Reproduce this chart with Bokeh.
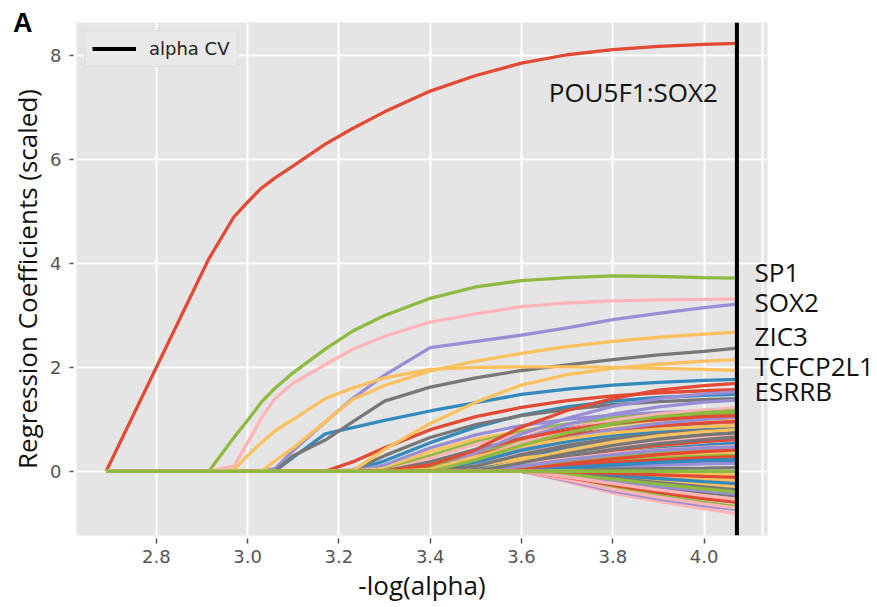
from bokeh.plotting import figure
from bokeh.models import Label, Legend, LegendItem, FixedTicker, Range1d, LinearAxis, Span
from bokeh.embed import file_html
from bokeh.resources import INLINE

# ---------------- data ----------------
palette = ["#E24A33", "#348ABD", "#988ED5", "#777777", "#FBC15E", "#8EBA42", "#FFB5B8"]

x_main = [2.69, 2.915, 2.97, 3.00, 3.03, 3.06, 3.10, 3.17, 3.23, 3.30, 3.40, 3.50, 3.60, 3.70, 3.80, 3.90, 4.00, 4.072]
pou5f1_sox2 = [0, 4.09, 4.90, 5.18, 5.45, 5.65, 5.88, 6.30, 6.60, 6.92, 7.32, 7.62, 7.86, 8.02, 8.12, 8.18, 8.22, 8.24]
sp1 = [0, 0, 0.65, 0.98, 1.33, 1.60, 1.90, 2.35, 2.70, 3.00, 3.33, 3.55, 3.67, 3.73, 3.76, 3.75, 3.73, 3.72]
sox2_a = [0, 0, 0.10, 0.55, 1.02, 1.40, 1.70, 2.05, 2.35, 2.60, 2.87, 3.03, 3.17, 3.24, 3.28, 3.30, 3.31, 3.32]
sox2_b = [0, 0, 0, 0, 0, 0.05, 0.40, 0.95, 1.40, 1.85, 2.38, 2.50, 2.62, 2.76, 2.92, 3.04, 3.15, 3.22]
zic3 = [0, 0, 0, 0, 0, 0.20, 0.45, 0.95, 1.38, 1.65, 1.93, 2.12, 2.27, 2.40, 2.50, 2.58, 2.64, 2.68]
orange_flat = [0, 0, 0.03, 0.30, 0.55, 0.78, 1.00, 1.40, 1.60, 1.80, 1.96, 2.00, 2.01, 2.01, 2.00, 1.98, 1.96, 1.94]
grey_top = [0, 0, 0, 0, 0, 0, 0.30, 0.60, 0.95, 1.35, 1.62, 1.80, 1.94, 2.05, 2.15, 2.24, 2.31, 2.37]
tcfcp2l1 = [0, 0, 0, 0, 0, 0, 0, 0, 0, 0.42, 0.92, 1.33, 1.66, 1.86, 1.98, 2.06, 2.12, 2.15]
esrrb = [0, 0, 0, 0, 0, 0, 0.27, 0.72, 0.84, 0.98, 1.16, 1.32, 1.48, 1.58, 1.66, 1.71, 1.75, 1.77]

x_bulk = [2.69, 3.17, 3.23, 3.30, 3.40, 3.50, 3.60, 3.70, 3.80, 3.90, 4.00, 4.072]
bulk_early = [
    [0, 0, 0.18, 0.45, 0.80, 1.05, 1.23, 1.36, 1.45, 1.51, 1.55, 1.57],
    [0, 0, 0, 0.20, 0.55, 0.85, 1.08, 1.24, 1.35, 1.42, 1.46, 1.48],
    [0, 0, 0, 0.12, 0.45, 0.70, 0.88, 1.00, 1.08, 1.13, 1.16, 1.18],
    [0, 0, 0.02, 0.30, 0.65, 0.90, 1.07, 1.19, 1.28, 1.34, 1.38, 1.40],
    [0, 0, 0, 0.05, 0.38, 0.62, 0.78, 0.89, 0.96, 1.00, 1.03, 1.04],
    [0, 0, 0, 0.02, 0.30, 0.56, 0.76, 0.91, 1.02, 1.09, 1.13, 1.15],
    [0, 0, 0, 0, 0.25, 0.52, 0.72, 0.86, 0.95, 1.00, 1.03, 1.05],
]
bulk_mid = [
    [0, 0, 0, 0, 0, 0.42, 0.85, 1.17, 1.40, 1.56, 1.65, 1.69],
    [0, 0, 0, 0, 0.10, 0.40, 0.64, 0.82, 0.95, 1.03, 1.08, 1.10],
    [0, 0, 0, 0, 0, 0.30, 0.62, 0.90, 1.10, 1.24, 1.33, 1.37],
    [0, 0, 0, 0, 0.18, 0.42, 0.60, 0.72, 0.80, 0.85, 0.88, 0.90],
    [0, 0, 0, 0, 0, 0.20, 0.45, 0.66, 0.82, 0.93, 1.00, 1.03],
    [0, 0, 0, 0, 0.05, 0.35, 0.58, 0.76, 0.90, 1.00, 1.07, 1.11],
    [0, 0, 0, 0, 0, 0.12, 0.35, 0.55, 0.70, 0.80, 0.86, 0.89],
    [0, 0, 0, 0, 0.02, 0.30, 0.52, 0.68, 0.80, 0.88, 0.93, 0.96],
    [0, 0, 0, 0, 0, 0.05, 0.25, 0.44, 0.58, 0.68, 0.74, 0.77],
    [0, 0, 0, 0, 0, 0.15, 0.42, 0.64, 0.80, 0.92, 1.00, 1.04],
    [0, 0, 0, 0, 0, 0.08, 0.30, 0.48, 0.62, 0.72, 0.79, 0.83],
    [0, 0, 0, 0, 0, 0.10, 0.25, 0.35, 0.42, 0.46, 0.49, 0.50],
    [0, 0, 0, 0, 0.08, 0.38, 0.62, 0.80, 0.93, 1.02, 1.07, 1.09],
    [0, 0, 0, 0, 0, 0.25, 0.55, 0.80, 0.98, 1.10, 1.18, 1.22],
    [0, 0, 0, 0, 0.12, 0.40, 0.63, 0.80, 0.92, 1.00, 1.05, 1.07],
    [0, 0, 0, 0, 0, 0.18, 0.40, 0.57, 0.69, 0.77, 0.82, 0.85],
    [0, 0, 0, 0, 0, 0.35, 0.72, 1.02, 1.25, 1.40, 1.49, 1.53],
    [0, 0, 0, 0, 0, 0.10, 0.32, 0.50, 0.63, 0.72, 0.78, 0.81],
    [0, 0, 0, 0, 0.03, 0.28, 0.48, 0.63, 0.74, 0.81, 0.86, 0.88],
    [0, 0, 0, 0, 0, 0.22, 0.50, 0.74, 0.92, 1.05, 1.13, 1.17],
]
bulk_late = [
    [0, 0, 0, 0, 0, 0, 0.15, 0.33, 0.48, 0.58, 0.65, 0.69],
    [0, 0, 0, 0, 0, 0, 0.10, 0.26, 0.40, 0.50, 0.57, 0.61],
    [0, 0, 0, 0, 0, 0, 0.05, 0.20, 0.33, 0.43, 0.50, 0.54],
    [0, 0, 0, 0, 0, 0, 0.08, 0.18, 0.27, 0.34, 0.39, 0.42],
    [0, 0, 0, 0, 0, 0, 0.12, 0.28, 0.42, 0.53, 0.61, 0.66],
    [0, 0, 0, 0, 0, 0, 0, 0.12, 0.22, 0.29, 0.34, 0.37],
    [0, 0, 0, 0, 0, 0, 0.04, 0.12, 0.19, 0.25, 0.29, 0.31],
    [0, 0, 0, 0, 0, 0, 0, 0.08, 0.15, 0.20, 0.24, 0.26],
    [0, 0, 0, 0, 0, 0, 0.02, 0.10, 0.17, 0.22, 0.26, 0.28],
    [0, 0, 0, 0, 0, 0, 0.02, 0.07, 0.12, 0.16, 0.19, 0.21],
    [0, 0, 0, 0, 0, 0, 0, 0.05, 0.09, 0.12, 0.14, 0.15],
    [0, 0, 0, 0, 0, 0, 0, 0.02, 0.04, 0.05, 0.06, 0.07],
    [0, 0, 0, 0, 0, 0, 0.20, 0.40, 0.56, 0.68, 0.76, 0.80],
    [0, 0, 0, 0, 0, 0, 0.06, 0.17, 0.28, 0.37, 0.44, 0.48],
    [0, 0, 0, 0, 0, 0, 0.12, 0.24, 0.34, 0.41, 0.46, 0.49],
    [0, 0, 0, 0, 0, 0, 0.03, 0.14, 0.24, 0.32, 0.38, 0.41],
    [0, 0, 0, 0, 0, 0, 0, 0.06, 0.12, 0.17, 0.21, 0.23],
    [0, 0, 0, 0, 0, 0, 0.10, 0.22, 0.32, 0.40, 0.45, 0.47],
    [0, 0, 0, 0, 0, 0, 0.16, 0.34, 0.50, 0.62, 0.70, 0.74],
]
bulk_neg = [
    [0, 0, 0, 0, 0, 0, 0, -0.04, -0.10, -0.18, -0.25, -0.30],
    [0, 0, 0, 0, 0, 0, 0, -0.10, -0.24, -0.36, -0.47, -0.55],
    [0, 0, 0, 0, 0, 0, 0, -0.20, -0.42, -0.58, -0.72, -0.82],
    [0, 0, 0, 0, 0, 0, 0, -0.13, -0.28, -0.41, -0.53, -0.60],
    [0, 0, 0, 0, 0, 0, 0, -0.07, -0.17, -0.27, -0.36, -0.42],
    [0, 0, 0, 0, 0, 0, 0, -0.18, -0.38, -0.53, -0.66, -0.74],
    [0, 0, 0, 0, 0, 0, 0, -0.09, -0.20, -0.31, -0.41, -0.48],
    [0, 0, 0, 0, 0, 0, 0, -0.02, -0.06, -0.10, -0.15, -0.18],
    [0, 0, 0, 0, 0, 0, 0, -0.15, -0.33, -0.47, -0.60, -0.68],
    [0, 0, 0, 0, 0, 0, 0, -0.16, -0.35, -0.50, -0.63, -0.71],
    [0, 0, 0, 0, 0, 0, 0, -0.12, -0.26, -0.38, -0.50, -0.57],
    [0, 0, 0, 0, 0, 0, 0, -0.03, -0.08, -0.14, -0.20, -0.24],
    [0, 0, 0, 0, 0, 0, 0, -0.08, -0.19, -0.29, -0.38, -0.44],
    [0, 0, 0, 0, 0, 0, 0, -0.05, -0.13, -0.22, -0.30, -0.36],
    [0, 0, 0, 0, 0, 0, 0, 0, -0.02, -0.04, -0.06, -0.07],
    [0, 0, 0, 0, 0, 0, 0, -0.06, -0.15, -0.25, -0.34, -0.40],
    [0, 0, 0, 0, 0, 0, 0, -0.11, -0.24, -0.36, -0.47, -0.54],
    [0, 0, 0, 0, 0, 0, 0, -0.01, -0.04, -0.07, -0.10, -0.12],
]
x_zero = [2.69, 4.072]
zero_line = [0, 0]

alpha_cv = 4.072
x_ticks = [2.8, 3.0, 3.2, 3.4, 3.6, 3.8, 4.0]
x_tick_labels = ["2.8", "3.0", "3.2", "3.4", "3.6", "3.8", "4.0"]
y_ticks = [0, 2, 4, 6, 8]
y_tick_labels = ["0", "2", "4", "6", "8"]

right_names = ["SP1", "SOX2", "ZIC3", "TCFCP2L1", "ESRRB"]
right_y = [3.83, 3.25, 2.60, 2.03, 1.54]
top_name = "POU5F1:SOX2"
top_y = 7.31
tag_text = "A"
tag_y = 8.63

# ---------------- figure ----------------
x0, x1 = 2.625, 4.139
y0, y1 = -1.2375, 8.641
p = figure(width=877, height=607, x_range=Range1d(x0, x1), y_range=Range1d(y0, y1),
           output_backend="svg", toolbar_location=None,
           min_border_left=76, min_border_right=110, min_border_top=22, min_border_bottom=72)
p.background_fill_color = "#E5E5E5"
p.border_fill_color = "white"
p.outline_line_color = None

xa = p.below[0]
ya = p.left[0]
xa.ticker = FixedTicker(ticks=x_ticks)
ya.ticker = FixedTicker(ticks=y_ticks)
xa.major_label_overrides = {t: s for t, s in zip(x_ticks, x_tick_labels)}
ya.major_label_overrides = {t: s for t, s in zip(y_ticks, y_tick_labels)}
for ax in (xa, ya):
    ax.axis_line_color = None
    ax.minor_tick_line_color = None
    ax.major_tick_line_color = "#555555"
    ax.major_tick_line_width = 1.5
    ax.major_tick_in = -3
    ax.major_label_text_font = "DejaVu Sans"
    ax.major_label_text_font_size = "18px"
    ax.major_label_text_color = "#555555"
xa.major_tick_out = 8
ya.major_tick_out = 7
xa.major_label_standoff = 6
ya.major_label_standoff = 8

xa.axis_label = "-log(alpha)"
xa.axis_label_text_font = "Open Sans"
xa.axis_label_text_font_size = "26px"
xa.axis_label_text_font_style = "normal"
xa.axis_label_text_color = "#111111"
xa.axis_label_standoff = 1

# outer left axis: panel tag "A" and the y title
tag_axis = LinearAxis(ticker=FixedTicker(ticks=[tag_y]), major_label_overrides={tag_y: tag_text})
tag_axis.axis_line_color = None
tag_axis.major_tick_line_color = None
tag_axis.minor_tick_line_color = None
tag_axis.major_tick_out = 0
tag_axis.major_tick_in = 0
tag_axis.major_label_standoff = 15
tag_axis.major_label_text_font = "Liberation Sans"
tag_axis.major_label_text_font_style = "bold"
tag_axis.major_label_text_font_size = "27px"
tag_axis.major_label_text_color = "black"
tag_axis.axis_label = "Regression Coefficients (scaled)"
tag_axis.axis_label_text_font = "Open Sans"
tag_axis.axis_label_text_font_size = "26px"
tag_axis.axis_label_text_font_style = "normal"
tag_axis.axis_label_text_color = "#111111"
tag_axis.axis_label_standoff = -35
p.add_layout(tag_axis, "left")

# right axis: gene names beside the alpha CV line
name_axis = LinearAxis(ticker=FixedTicker(ticks=right_y),
                       major_label_overrides={v: n for v, n in zip(right_y, right_names)})
name_axis.axis_line_color = None
name_axis.major_tick_line_color = None
name_axis.minor_tick_line_color = None
name_axis.major_tick_out = 0
name_axis.major_tick_in = 0
name_axis.major_label_standoff = -13
name_axis.major_label_text_font = "Open Sans"
name_axis.major_label_text_font_size = "26px"
name_axis.major_label_text_color = "#111111"
p.add_layout(name_axis, "right")

p.xgrid.grid_line_color = "white"
p.ygrid.grid_line_color = "white"
p.xgrid.grid_line_width = 2
p.ygrid.grid_line_width = 2
p.add_layout(Span(location=4.128, dimension="height", line_color="white", line_width=2, level="underlay"))

bulk = bulk_early + bulk_mid + bulk_late + bulk_neg
for i, ys in enumerate(bulk):
    p.line(x_bulk, ys, line_color=palette[i % 7], line_width=3.3)

main = [(pou5f1_sox2, 0), (esrrb, 1), (sox2_b, 2), (grey_top, 3), (zic3, 4), (orange_flat, 4),
        (tcfcp2l1, 4), (sp1, 5), (sox2_a, 6)]
for ys, ci in main:
    p.line(x_main, ys, line_color=palette[ci], line_width=3.3)

p.line(x_zero, zero_line, line_color=palette[5], line_width=3.3)

cv_line = p.line([alpha_cv, alpha_cv], [y0, y1], line_color="black", line_width=4)
legend = Legend(items=[LegendItem(label="alpha CV", renderers=[cv_line])], location="top_left")
legend.background_fill_color = "#E9E9E9"
legend.background_fill_alpha = 1
legend.border_line_color = "#CFCFCF"
legend.border_line_width = 1
legend.label_text_font = "DejaVu Sans"
legend.label_text_font_size = "18px"
legend.label_text_color = "#222222"
legend.glyph_width = 44
legend.glyph_height = 21
legend.label_height = 21
legend.label_standoff = 13
legend.padding = 7
legend.margin = 8
p.add_layout(legend)

p.add_layout(Label(x=alpha_cv, y=top_y, text=top_name, x_offset=-19,
                   text_align="right", text_baseline="middle",
                   text_font="Open Sans", text_font_size="26px", text_color="#111111"))

open("out.html", "w").write(file_html(p, INLINE))
